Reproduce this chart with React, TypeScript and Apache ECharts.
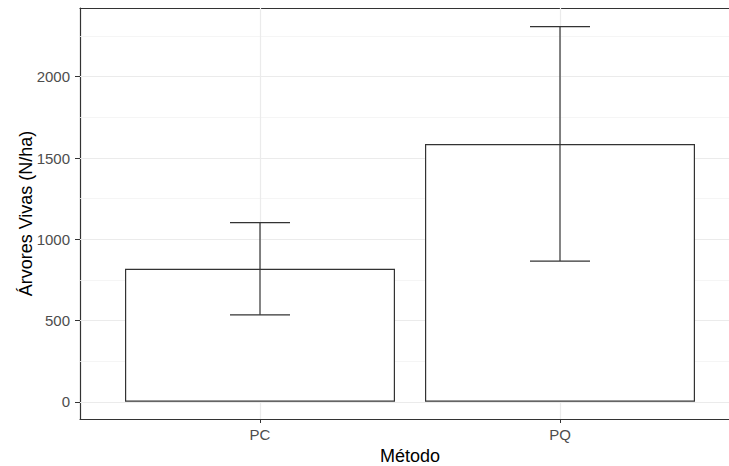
import React, { useEffect, useRef } from "react";
import * as echarts from "echarts";

const categories = ["PC", "PQ"];
const means = [818, 1586];
const lower = [535, 866];
const upper = [1102, 2308];
const yTicks = [0, 500, 1000, 1500, 2000];
const yMinor = [250, 750, 1250, 1750, 2250];

export default function App() {
  const ref = useRef<HTMLDivElement>(null);
  useEffect(() => {
    if (!ref.current) return;
    const chart = echarts.init(ref.current, null, { renderer: "svg" });
    const font = "'Liberation Sans', Arial, sans-serif";
    const xs = categories.map((_, i) => i + 1);
    const gridLines: any[] = [
      ...yMinor.map((v) => ({ yAxis: v, lineStyle: { color: "#f3f3f3", width: 0.8, type: "solid" } })),
      ...yTicks.map((v) => ({ yAxis: v, lineStyle: { color: "#ebebeb", width: 1.2, type: "solid" } })),
      ...xs.map((v) => ({ xAxis: v, lineStyle: { color: "#ebebeb", width: 1.2, type: "solid" } })),
    ];
    const border = { show: true, onZero: false, lineStyle: { color: "#333333", width: 1.2 } };
    chart.setOption({
      animation: false,
      backgroundColor: "#ffffff",
      grid: {
        left: 80,
        top: 8,
        width: 660,
        height: 411,
        outerBoundsMode: "none",
        containLabel: false,
        show: false,
      },
      xAxis: [
        {
          type: "value",
          position: "bottom",
          min: 0.4,
          max: 2.6,
          name: "Método",
          nameLocation: "middle",
          nameGap: 25,
          nameTextStyle: { color: "#000000", fontSize: 18, fontFamily: font },
          axisLine: border,
          splitLine: { show: false },
          axisTick: { show: true, length: 4, customValues: xs, lineStyle: { color: "#333333" } },
          axisLabel: {
            customValues: xs,
            margin: 8,
            color: "#4d4d4d",
            fontSize: 15,
            fontFamily: font,
            formatter: (v: number) => categories[Math.round(v) - 1] ?? "",
          },
        },
        {
          type: "value",
          position: "top",
          min: 0.4,
          max: 2.6,
          axisLine: border,
          splitLine: { show: false },
          axisTick: { show: false },
          axisLabel: { show: false },
        },
      ],
      yAxis: {
        type: "value",
        min: -106,
        max: 2423,
        name: "Árvores Vivas (N/ha)",
        nameLocation: "middle",
        nameGap: 45,
        nameMoveOverlap: false,
        nameTextStyle: { color: "#000000", fontSize: 18, fontFamily: font },
        axisLine: border,
        splitLine: { show: false },
        axisTick: { show: true, length: 5, customValues: yTicks, lineStyle: { color: "#333333" } },
        axisLabel: {
          customValues: yTicks,
          margin: 10,
          color: "#4d4d4d",
          fontSize: 15,
          fontFamily: font,
          formatter: (v: number) => String(v),
        },
      },
      series: [
        {
          type: "scatter",
          data: [],
          z: 1,
          silent: true,
          markLine: {
            silent: true,
            z: 1,
            symbol: ["none", "none"],
            label: { show: false },
            animation: false,
            data: gridLines,
          },
        },
        {
          type: "bar",
          z: 2,
          barWidth: 270,
          data: xs.map((x, i) => [x, means[i]]),
          itemStyle: { color: "#ffffff", borderColor: "#333333", borderWidth: 1.2 },
          silent: true,
        },
        {
          type: "custom",
          z: 3,
          silent: true,
          data: xs.map((x, i) => [x, lower[i], upper[i]]),
          encode: { x: 0, y: [1, 2] },
          renderItem: (params: any, api: any) => {
            const x = api.value(0);
            const lo = api.coord([x, api.value(1)]);
            const hi = api.coord([x, api.value(2)]);
            const hw = api.size([0.1, 0])[0];
            const style = { stroke: "#333333", lineWidth: 1.2 };
            return {
              type: "group",
              children: [
                { type: "line", shape: { x1: hi[0], y1: hi[1], x2: lo[0], y2: lo[1] }, style },
                { type: "line", shape: { x1: hi[0] - hw, y1: hi[1], x2: hi[0] + hw, y2: hi[1] }, style },
                { type: "line", shape: { x1: lo[0] - hw, y1: lo[1], x2: lo[0] + hw, y2: lo[1] }, style },
              ],
            };
          },
        },
      ],
    });
    return () => chart.dispose();
  }, []);
  return (
    <div
      ref={ref}
      style={{ position: "fixed", left: 0, top: 0, width: 729, height: 466, background: "#ffffff" }}
    />
  );
}
